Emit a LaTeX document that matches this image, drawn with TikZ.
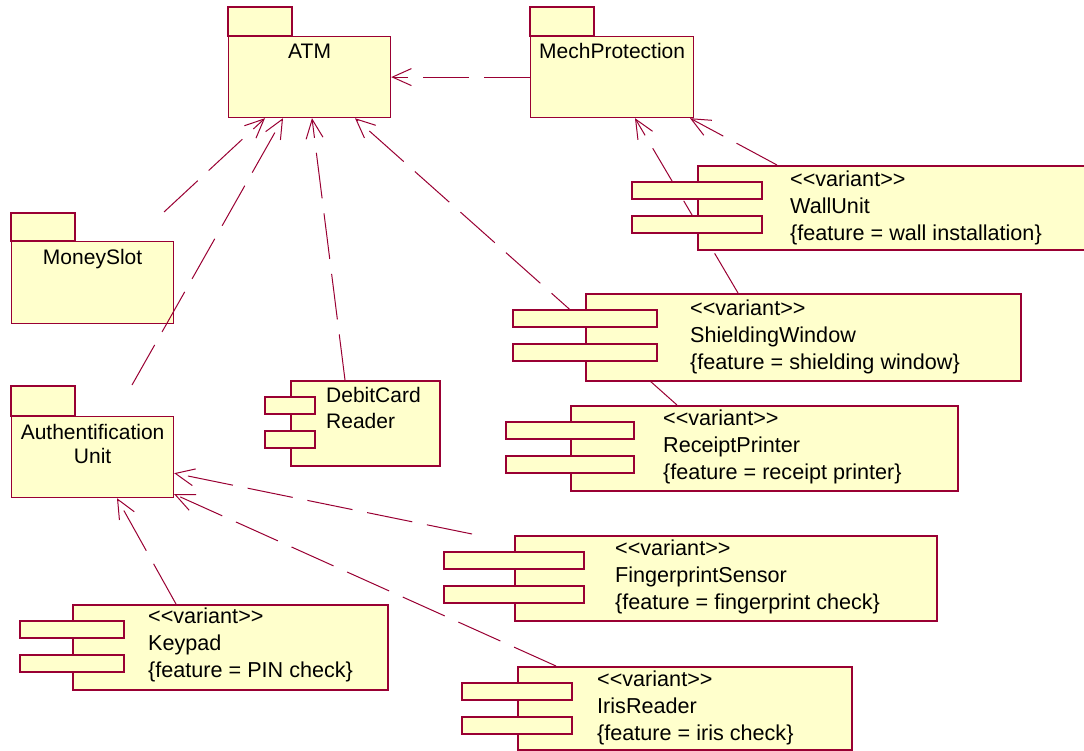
\documentclass[tikz,border=0pt]{standalone}
\usepackage{fontspec}
\setmainfont{Liberation Sans}
\usetikzlibrary{arrows.meta}
\usetikzlibrary{positioning}
\definecolor{umlline}{RGB}{153,0,51}
\definecolor{umlfill}{RGB}{255,255,204}
\pgfdeclarelayer{pkglayer}
\pgfdeclarelayer{linklayer}
\pgfsetlayers{pkglayer,linklayer,main}
% the two little bars on the left side of a component
\newcommand{\compports}[2]{%
  \draw[port] ([shift={(-#2,17)}]#1.north west) rectangle ([shift={(#2,34)}]#1.north west);
  \draw[port] ([shift={(-#2,51)}]#1.north west) rectangle ([shift={(#2,68)}]#1.north west);}
\tikzset{
  pkg/.style={draw=umlline, fill=umlfill, line width=1.2pt, anchor=north west, inner sep=0pt, minimum width=162pt, minimum height=81pt},
  pkgtab/.style={draw=umlline, fill=umlfill, line width=1.2pt},
  comp/.style={draw=umlline, fill=umlfill, line width=2pt, anchor=north west, inner sep=0pt, minimum height=85pt},
  port/.style={draw=umlline, fill=umlfill, line width=2pt},
  ctext/.style={inner sep=0pt, align=left, anchor=north west, font=\fontsize{21.6}{27}\selectfont},
  ptext/.style={inner sep=0pt, align=center},
  dep/.style={draw=umlline, line width=1pt, dash pattern=on 46pt off 15pt, ->}
}

\begin{document}
\begin{tikzpicture}[x=1pt, y=-1pt, font=\fontsize{21}{27}\selectfont, >={Straight Barb[length=19pt, width=17pt]}]
      \useasboundingbox (0,0) rectangle (1084,751);
      \begin{pgfonlayer}{pkglayer}
      \node[pkg] (atm) at (228,36) {};
      \draw[pkgtab] (atm.north west) rectangle ++(64,-29);
      \node[ptext, below=7.5pt of atm.north] {ATM};
      \node[pkg, minimum width=163pt] (mech) at (530,36) {};
      \draw[pkgtab] (mech.north west) rectangle ++(64,-29);
      \node[ptext, below=7.5pt of mech.north] {MechProtection};
      \node[pkg, minimum height=82pt] (ms) at (11,241) {};
      \draw[pkgtab] (ms.north west) rectangle ++(64,-28);
      \node[ptext, below=8pt of ms.north] {MoneySlot};
      \node[pkg] (au) at (11,416) {};
      \draw[pkgtab] (au.north west) rectangle ++(64,-30);
      \node[ptext, below=8pt of au.north, font=\fontsize{21}{24}\selectfont] {Authentification\\Unit};
      \end{pgfonlayer}

      \node[comp, minimum width=440pt, minimum height=84pt] (wall) at (697,165) {};
      \compports{wall}{65}
      \node[ctext, below right=6pt and 93pt of wall.north west] {<{}<variant>{}>\\WallUnit\\\{feature = wall installation\}};
      \node[comp, minimum width=435pt, minimum height=87pt] (shw) at (585,293) {};
      \compports{shw}{72}
      \node[ctext, below right=7pt and 105pt of shw.north west] {<{}<variant>{}>\\ShieldingWindow\\\{feature = shielding window\}};
      \node[comp, minimum width=387pt] (rcp) at (570,405) {};
      \compports{rcp}{64}
      \node[ctext, below right=5pt and 93pt of rcp.north west] {<{}<variant>{}>\\ReceiptPrinter\\\{feature = receipt printer\}};
      \node[comp, minimum width=422pt] (fps) at (514,535) {};
      \compports{fps}{70}
      \node[ctext, below right=5pt and 101pt of fps.north west] {<{}<variant>{}>\\FingerprintSensor\\\{feature = fingerprint check\}};
      \node[comp, minimum width=315pt] (kpd) at (72,604) {};
      \compports{kpd}{52}
      \node[ctext, below right=4pt and 76pt of kpd.north west] {<{}<variant>{}>\\Keypad\\\{feature = PIN check\}};
      \node[comp, minimum width=334pt, minimum height=83pt] (iris) at (517,666) {};
      \compports{iris}{55}
      \node[ctext, below right=5pt and 80pt of iris.north west] {<{}<variant>{}>\\IrisReader\\\{feature = iris check\}};
      \node[comp, minimum width=149pt] (dcr) at (290,380) {};
      \compports{dcr}{25}
      \node[ctext, below right=7pt and 36pt of dcr.north west, font=\fontsize{21}{26}\selectfont] {DebitCard\\Reader};

      \begin{pgfonlayer}{linklayer}
      \draw[dep] (mech.west) -- (atm.east);
      \draw[dep] ([shift={(153,-29)}]ms.north west) -- ([shift={(37,0)}]atm.south west);
      \draw[dep] ([shift={(121,-31)}]au.north west) -- ([shift={(55,0)}]atm.south west);
      \draw[dep] ([shift={(55,0)}]dcr.north west) -- ([shift={(84,0)}]atm.south west);
      \draw[dep] ([shift={(107,0)}]rcp.north west) -- ([shift={(127,0)}]atm.south west);
      \draw[dep] ([shift={(80,0)}]wall.north west) -- ([shift={(160,0)}]mech.south west);
      \draw[dep] ([shift={(153,0)}]shw.north west) -- ([shift={(105,0)}]mech.south west);
      \draw[dep] ([shift={(104,0)}]kpd.north west) -- ([shift={(106,0)}]au.south west);
      \draw[dep] ([shift={(-42,-1)}]fps.north west) -- ([shift={(0,-25)}]au.south east);
      \draw[dep] ([shift={(39,0)}]iris.north west) -- ([shift={(0,-4)}]au.south east);
      \end{pgfonlayer}
    \end{tikzpicture}
\end{document}
